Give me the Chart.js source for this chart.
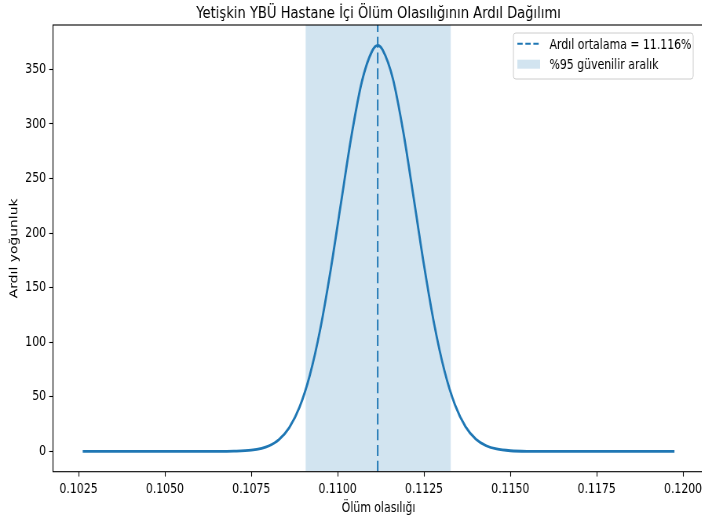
<!DOCTYPE html>
<html lang="tr">
<head>
<meta charset="UTF-8">
<title>Ardıl Dağılım</title>
<script src="https://cdn.jsdelivr.net/npm/chart.js"></script>
<style>
    html, body { margin: 0; padding: 0; background: #fff; overflow: hidden; }
    /* the reference is squeezed horizontally, so draw wide and scale down */
    #wrap { width: 912px; height: 521px; transform: scaleX(0.785); transform-origin: 0 0; }
</style>
</head>
<body>
<div id="wrap"><canvas id="post" width="912" height="521"></canvas></div>
<script>
// values
const xVals = [0.10262, 0.1040, 0.1055, 0.1065, 0.1070, 0.1075, 0.1078, 0.1080, 0.1083, 0.1086,
               0.1089, 0.1092, 0.1095, 0.1098, 0.1101, 0.1104, 0.1107, 0.1110, 0.11116, 0.1113,
               0.1116, 0.1119, 0.1122, 0.1125, 0.1128, 0.1131, 0.1134, 0.1137, 0.1140, 0.1143,
               0.1146, 0.1150, 0.1155, 0.1165, 0.1180, 0.11975];
const density = [0, 0, 0, 0, 0.2, 1.1, 2.8, 4.9, 10.8, 21.8,
                 40.7, 70.4, 112.6, 166.7, 228.2, 289, 338.6, 366.9, 372, 367.9,
                 341.2, 292.7, 232.4, 170.6, 115.8, 72.8, 42.3, 22.7, 11.3, 5.2,
                 2.2, 0.6, 0.1, 0, 0, 0];
const postMean = 0.11116;
const ciBounds = [0.10907, 0.11328];
const xTicks = [0.1025, 0.1050, 0.1075, 0.1100, 0.1125, 0.1150, 0.1175, 0.1200];
const yTicks = [0, 50, 100, 150, 200, 250, 300, 350];
const xRange = [0.10176, 0.12061];
const yRange = [-18.6, 390.6];

const titleText = 'Yetişkin YBÜ Hastane İçi Ölüm Olasılığının Ardıl Dağılımı';
const meanLabel = 'Ardıl ortalama = ' + (postMean * 100).toFixed(3) + '%';
const ciLabel = '%95 güvenilir aralık';

const FONT = "'DejaVu Sans', sans-serif";
const blue = '#1f77b4';

const curve = xVals.map((x, i) => ({ x: x, y: density[i] }));

// title, legend and the full box like matplotlib
const decor = {
    id: 'decor',
    afterDraw(chart) {
        const ctx = chart.ctx;
        const a = chart.chartArea;
        ctx.save();
        ctx.strokeStyle = '#000';
        ctx.lineWidth = 1.1;
        ctx.strokeRect(a.left, a.top, a.right - a.left, a.bottom - a.top);

        ctx.fillStyle = '#000';
        ctx.font = '16.7px ' + FONT;
        ctx.textAlign = 'center';
        ctx.textBaseline = 'alphabetic';
        ctx.fillText(titleText, (a.left + a.right) / 2, 18.3);

        // legend box
        const bx = 654, by = 33, bw = 229, bh = 46, r = 3;
        ctx.beginPath();
        ctx.moveTo(bx + r, by);
        ctx.arcTo(bx + bw, by, bx + bw, by + bh, r);
        ctx.arcTo(bx + bw, by + bh, bx, by + bh, r);
        ctx.arcTo(bx, by + bh, bx, by, r);
        ctx.arcTo(bx, by, bx + bw, by, r);
        ctx.closePath();
        ctx.fillStyle = 'rgba(255,255,255,0.8)';
        ctx.fill();
        ctx.strokeStyle = '#cccccc';
        ctx.lineWidth = 1;
        ctx.stroke();

        ctx.strokeStyle = blue;
        ctx.lineWidth = 2;
        ctx.setLineDash([6.8, 3.4]);
        ctx.beginPath();
        ctx.moveTo(659, 43.7);
        ctx.lineTo(688, 43.7);
        ctx.stroke();
        ctx.setLineDash([]);

        ctx.fillStyle = 'rgba(31,119,180,0.2)';
        ctx.fillRect(659, 59.7, 29, 9);

        ctx.fillStyle = '#000';
        ctx.font = '13.9px ' + FONT;
        ctx.textAlign = 'left';
        ctx.fillText(meanLabel, 700, 48.7);
        ctx.fillText(ciLabel, 700, 68.7);
        ctx.restore();
    }
};

new Chart(document.getElementById('post'), {
    type: 'line',
    data: {
        datasets: [
            {
                data: curve,
                borderColor: blue,
                borderWidth: 2.8,
                pointRadius: 0,
                cubicInterpolationMode: 'monotone',
                fill: false,
                order: 1
            },
            {
                data: [{ x: postMean, y: yRange[0] }, { x: postMean, y: yRange[1] }],
                borderColor: blue,
                borderWidth: 2,
                borderDash: [11, 4.7],
                pointRadius: 0,
                fill: false,
                order: 2
            },
            {
                data: [{ x: ciBounds[0], y: yRange[1] }, { x: ciBounds[1], y: yRange[1] }],
                borderWidth: 0,
                borderColor: 'rgba(0,0,0,0)',
                backgroundColor: 'rgba(31,119,180,0.2)',
                pointRadius: 0,
                fill: 'start',
                order: 3
            }
        ]
    },
    options: {
        responsive: false,
        devicePixelRatio: 1,
        animation: false,
        events: [],
        layout: { padding: { top: 25, right: 15, left: 0, bottom: 0 } },
        plugins: {
            legend: { display: false },
            tooltip: { enabled: false },
            title: { display: false }
        },
        scales: {
            x: {
                type: 'linear',
                min: xRange[0],
                max: xRange[1],
                afterBuildTicks: s => { s.ticks = xTicks.map(v => ({ value: v })); },
                afterFit: s => { s.height = 49.3; },
                border: { display: false },
                grid: { drawOnChartArea: false, tickLength: 4.9, tickColor: '#000', tickWidth: 1.1 },
                ticks: {
                    color: '#000',
                    font: { family: FONT, size: 13.9 },
                    padding: 4,
                    maxRotation: 0,
                    autoSkip: false,
                    callback: v => Number(v).toFixed(4)
                },
                title: {
                    display: true,
                    text: 'Ölüm olasılığı',
                    color: '#000',
                    font: { family: FONT, size: 13.9 },
                    padding: { top: 0, bottom: 4 }
                }
            },
            y: {
                min: yRange[0],
                max: yRange[1],
                afterBuildTicks: s => { s.ticks = yTicks.map(v => ({ value: v })); },
                afterFit: s => { s.width = 67.5; },
                border: { display: false },
                grid: { drawOnChartArea: false, tickLength: 4.9, tickColor: '#000', tickWidth: 1.1 },
                ticks: {
                    color: '#000',
                    font: { family: FONT, size: 13.9 },
                    padding: 4,
                    autoSkip: false,
                    callback: v => String(v)
                },
                title: {
                    display: true,
                    text: 'Ardıl yoğunluk',
                    color: '#000',
                    font: { family: FONT, size: 13.9 },
                    padding: { top: 10.5, bottom: 0 }
                }
            }
        }
    },
    plugins: [decor]
});
</script>
</body>
</html>
